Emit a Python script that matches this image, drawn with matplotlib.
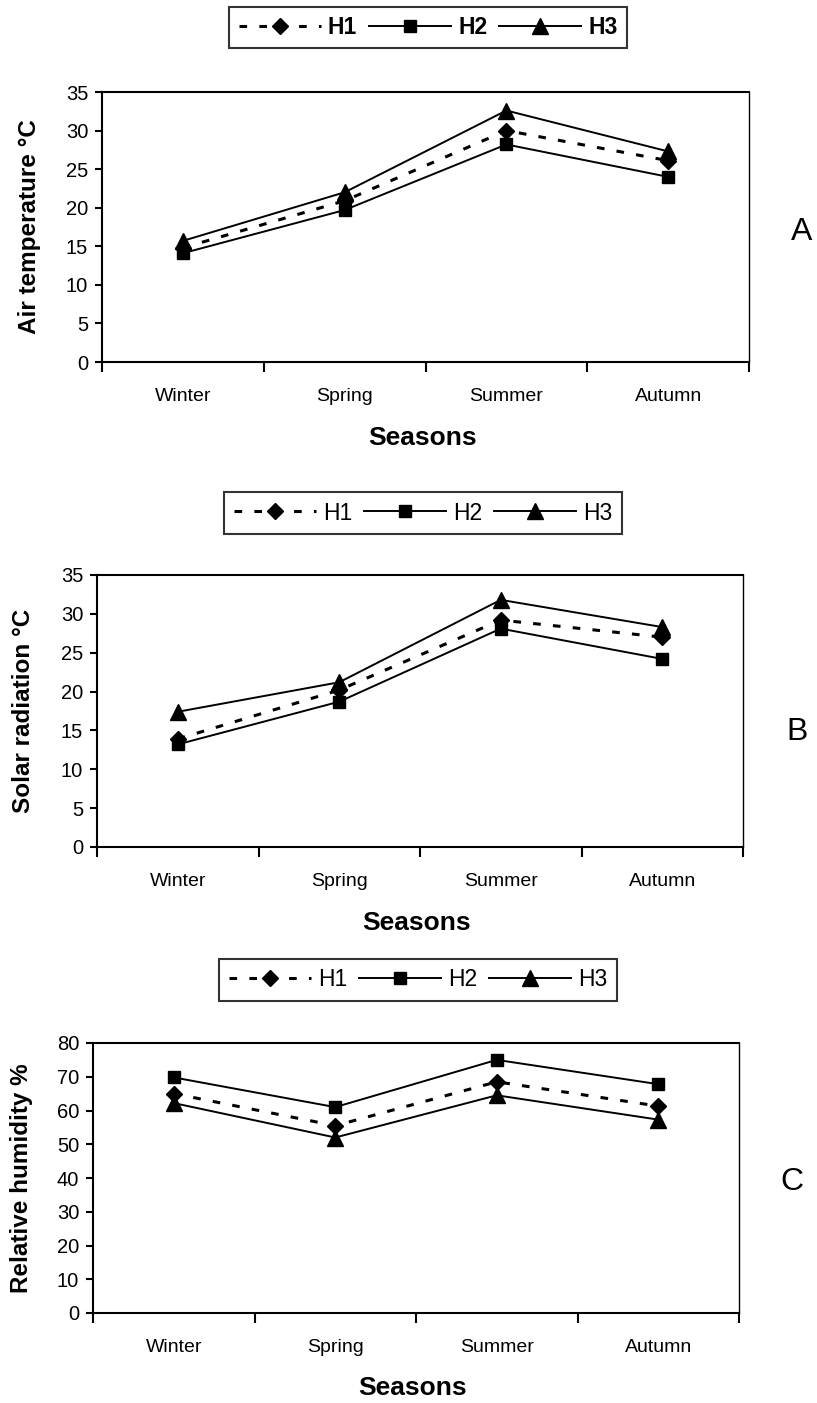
import matplotlib
matplotlib.use("Agg")
import matplotlib.pyplot as plt
from matplotlib.ticker import FixedLocator, NullFormatter

plt.rcParams['font.family'] = ['Liberation Sans', 'DejaVu Sans']

seasons = ["Winter", "Spring", "Summer", "Autumn"]
series_names = ["H1", "H2", "H3"]

# Panel A: Air temperature (°C)
air_h1 = [14.8, 20.9, 30.0, 26.1]
air_h2 = [14.1, 19.7, 28.2, 24.0]
air_h3 = [15.7, 22.0, 32.6, 27.3]

# Panel B: Solar radiation (°C)
sol_h1 = [13.9, 20.2, 29.2, 27.0]
sol_h2 = [13.2, 18.7, 28.1, 24.2]
sol_h3 = [17.4, 21.2, 31.8, 28.3]

# Panel C: Relative humidity (%)
rh_h1 = [65.0, 55.5, 68.5, 61.3]
rh_h2 = [69.8, 61.0, 75.0, 67.8]
rh_h3 = [62.2, 52.0, 64.5, 57.3]

panels = [
    dict(data=[air_h1, air_h2, air_h3], ylabel="Air temperature °C", ymax=35, ystep=5,
         letter="A", rect=[102, 92, 749, 362], ylab_x=41, legend=(428, 27.5), seasons_xy=(423, 438),
         letter_xy=(802, 232), legbold=True),
    dict(data=[sol_h1, sol_h2, sol_h3], ylabel="Solar radiation °C", ymax=35, ystep=5,
         letter="B", rect=[97, 575, 743, 847], ylab_x=35, legend=(423, 513), seasons_xy=(417, 923),
         letter_xy=(797, 732), legbold=False),
    dict(data=[rh_h1, rh_h2, rh_h3], ylabel="Relative humidity %", ymax=80, ystep=10,
         letter="C", rect=[93, 1043, 739, 1313], ylab_x=33, legend=(418, 980), seasons_xy=(413, 1388),
         letter_xy=(792, 1182), legbold=False),
]

W, H = 817, 1403
fig = plt.figure(figsize=(W / 100, H / 100), dpi=100)

styles = [
    dict(linestyle=(0, (2.5, 4)), marker="D", markersize=8.5, linewidth=2.2),
    dict(linestyle="-", marker="s", markersize=8.5, linewidth=1.4),
    dict(linestyle="-", marker="^", markersize=11, linewidth=1.4),
]

for p in panels:
    x0, y0, x1, y1 = p["rect"]
    ax = fig.add_axes([x0 / W, 1 - y1 / H, (x1 - x0) / W, (y1 - y0) / H])
    xs = [i + 0.5 for i in range(len(seasons))]
    handles = []
    for name, vals, st in zip(series_names, p["data"], styles):
        h, = ax.plot(xs, vals, color="black", label=name, markerfacecolor="black",
                     markeredgecolor="black", **st)
        handles.append(h)
    ax.set_xlim(0, len(seasons))
    ax.set_ylim(0, p["ymax"])
    ax.set_yticks(list(range(0, p["ymax"] + 1, p["ystep"])))
    ax.set_xticks(xs)
    ax.set_xticklabels(seasons, fontsize=14)
    ax.xaxis.set_minor_locator(FixedLocator(list(range(0, len(seasons) + 1))))
    ax.xaxis.set_minor_formatter(NullFormatter())
    ax.tick_params(axis="x", which="major", length=0, pad=19)
    ax.tick_params(axis="x", which="minor", length=7, width=1.5, direction="out")
    ax.tick_params(axis="y", which="major", length=5, width=1.5, direction="out",
                   labelsize=14.5, pad=5)
    for s in ax.spines.values():
        s.set_linewidth(1.5)
        s.set_color("black")
    ax.spines["right"].set_linewidth(1.0)
    ax.set_ylabel(p["ylabel"], fontsize=17.5, fontweight="bold")
    ax.yaxis.set_label_coords((p["ylab_x"] - x0) / (x1 - x0), 0.5)

    lx, ly = p["legend"]
    leg = fig.legend(handles=handles, loc="center", bbox_to_anchor=(lx / W, 1 - ly / H),
                     ncol=3, frameon=True, fancybox=False, edgecolor="black",
                     handlelength=3.6, handletextpad=0.3, columnspacing=0.5,
                     borderpad=0.4, prop=dict(size=16.5, weight="bold" if p["legbold"] else "normal"))
    leg.get_frame().set_linewidth(1.5)

    sx, sy = p["seasons_xy"]
    fig.text(sx / W, 1 - sy / H, "Seasons", ha="center", va="center", fontsize=19, fontweight="bold")
    lx2, ly2 = p["letter_xy"]
    fig.text(lx2 / W, 1 - ly2 / H, p["letter"], ha="center", va="center", fontsize=23)

fig.savefig("out.png", dpi=100)
